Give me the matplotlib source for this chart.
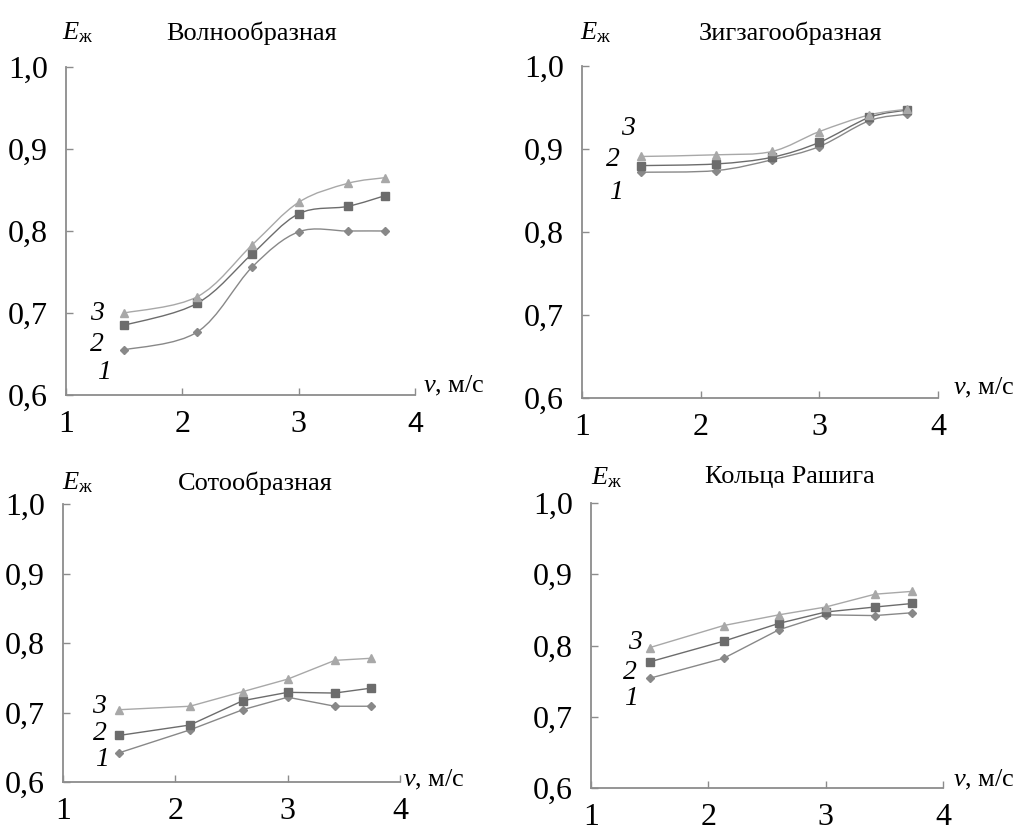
import numpy as np
import matplotlib
matplotlib.use('Agg')
import matplotlib.pyplot as plt
from matplotlib.path import Path
from matplotlib.patches import PathPatch

plt.rcParams['font.family'] = ['Liberation Serif', 'DejaVu Serif']
plt.rcParams['mathtext.fontset'] = 'custom'
plt.rcParams['mathtext.rm'] = 'Liberation Serif'
plt.rcParams['mathtext.it'] = 'Liberation Serif:italic'

# ---- data ----
v = [1.5, 2.13, 2.6, 3.0, 3.42, 3.74]

titles = ['Волнообразная', 'Зигзагообразная', 'Сотообразная', 'Кольца Рашига']

wave_1 = [0.655, 0.677, 0.756, 0.799, 0.800, 0.800]
wave_2 = [0.685, 0.712, 0.772, 0.821, 0.830, 0.843]
wave_3 = [0.700, 0.720, 0.783, 0.835, 0.858, 0.865]

zigzag_1 = [0.872, 0.874, 0.887, 0.903, 0.934, 0.942]
zigzag_2 = [0.880, 0.882, 0.890, 0.908, 0.938, 0.947]
zigzag_3 = [0.891, 0.893, 0.897, 0.921, 0.941, 0.948]

honey_1 = [0.642, 0.675, 0.704, 0.722, 0.709, 0.709]
honey_2 = [0.667, 0.682, 0.717, 0.729, 0.728, 0.735]
honey_3 = [0.704, 0.709, 0.730, 0.748, 0.775, 0.778]

rasch_1 = [0.754, 0.782, 0.822, 0.843, 0.842, 0.846]
rasch_2 = [0.777, 0.806, 0.831, 0.847, 0.854, 0.859]
rasch_3 = [0.797, 0.828, 0.843, 0.854, 0.872, 0.876]

series = [(wave_1, wave_2, wave_3), (zigzag_1, zigzag_2, zigzag_3),
          (honey_1, honey_2, honey_3), (rasch_1, rasch_2, rasch_3)]
smooth = [True, True, False, False]

xticks = [1, 2, 3, 4]
yticks = [0.6, 0.7, 0.8, 0.9, 1.0]
ytick_labels = ['0,6', '0,7', '0,8', '0,9', '1,0']
curve_names = ['1', '2', '3']

# ---- layout (pixels of a 1021x826 figure) ----
W, H = 1021, 826
boxes = [(66, 67, 415, 395), (582, 66, 938, 398),
         (63, 504, 400, 782), (591, 503, 943, 788)]
title_pos = [(252, 33), (790, 33), (255, 483), (790, 477)]
e_pos = [(78, 33), (596, 33), (78, 483), (607, 478)]
v_pos = [(423, 386), (953, 388), (403, 780), (953, 780)]
num_pos = [[(1.33, 0.627), (1.27, 0.661), (1.27, 0.700)],
           [(1.29, 0.848), (1.26, 0.887), (1.39, 0.925)],
           [(1.35, 0.632), (1.33, 0.670), (1.32, 0.708)],
           [(1.34, 0.726), (1.33, 0.762), (1.375, 0.804)]]

colors = ['#888888', '#6c6c6c', '#a8a8a8']
markers = ['D', 's', '^']
msizes = [4.5, 6.3, 6.3]
spine_c = '#8c8c8c'


def px(x, y):
    return x / W, 1 - y / H


def smooth_patch(x, y, color):
    # Excel-like smoothed line: cubic Bezier through the points
    pts = np.column_stack([x, y])
    n = len(pts)
    verts = [pts[0]]
    codes = [Path.MOVETO]
    for i in range(n - 1):
        p0 = pts[max(i - 1, 0)]
        p1 = pts[i]
        p2 = pts[i + 1]
        p3 = pts[min(i + 2, n - 1)]
        c1 = p1 + (p2 - p0) / 6
        c2 = p2 - (p3 - p1) / 6
        verts += [c1, c2, p2]
        codes += [Path.CURVE4] * 3
    return PathPatch(Path(verts, codes), facecolor='none', edgecolor=color, lw=1.0)


fig = plt.figure(figsize=(W / 100, H / 100), dpi=100)

for k in range(4):
    l, t, r, b = boxes[k]
    ax = fig.add_axes([l / W, 1 - b / H, (r - l) / W, (b - t) / H])
    for j in range(3):
        y = series[k][j]
        if smooth[k]:
            ax.add_patch(smooth_patch(v, y, colors[j]))
            ax.plot(v, y, linestyle='none', marker=markers[j], ms=msizes[j],
                    color=colors[j], mec=colors[j])
        else:
            ax.plot(v, y, lw=1.0, marker=markers[j], ms=msizes[j],
                    color=colors[j], mec=colors[j])
        nx, ny = num_pos[k][j]
        ax.text(nx, ny, curve_names[j], fontsize=20, style='italic',
                ha='center', va='center')

    ax.set_xlim(1, 4)
    ax.set_ylim(0.6, 1.0)
    ax.set_xticks(xticks)
    ax.set_yticks(yticks)
    ax.set_yticklabels(ytick_labels)
    for s in ['top', 'right']:
        ax.spines[s].set_visible(False)
    for s in ['left', 'bottom']:
        ax.spines[s].set_color(spine_c)
        ax.spines[s].set_linewidth(1.3)
    ax.tick_params(axis='both', direction='in', length=5, width=1.0,
                   color=spine_c, labelsize=23)
    ax.tick_params(axis='x', pad=11)
    ax.tick_params(axis='y', pad=13)
    ax.patch.set_visible(False)
    if k == 0:
        ax.get_xticklabels()[-1].set_fontfamily('Liberation Sans')
        ax.get_xticklabels()[-1].set_fontsize(21)

    tx, ty = title_pos[k]
    fig.text(*px(tx, ty), titles[k], fontsize=19, ha='center', va='center')
    ex, ey = e_pos[k]
    fig.text(*px(ex, ey), r'$E_{\mathrm{ж}}$', fontsize=19, ha='center', va='center')
    vx, vy = v_pos[k]
    fig.text(*px(vx, vy), r'$v$, м/с', fontsize=19, ha='left', va='center')

fig.savefig('out.png', dpi=100)
